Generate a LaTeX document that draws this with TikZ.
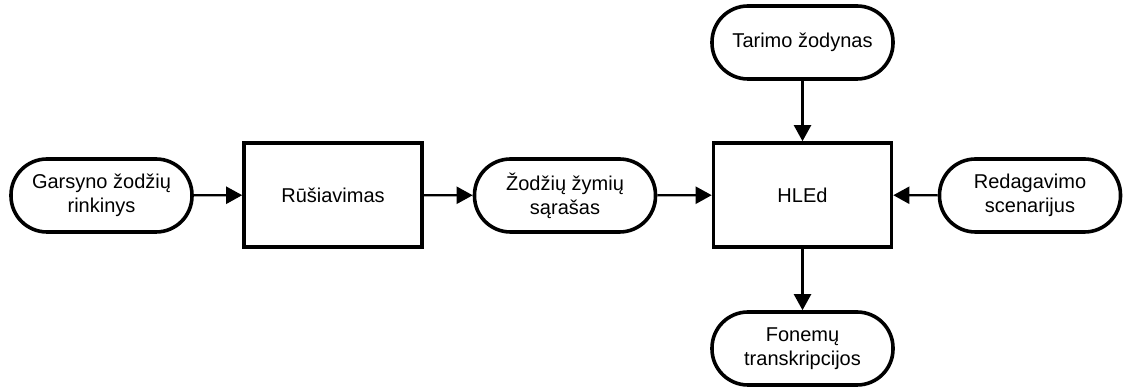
\documentclass[tikz,border=0pt]{standalone}
\usepackage{fontspec}
\setmainfont{Liberation Sans}
\usetikzlibrary{arrows.meta}
\tikzset{
  base/.style={draw=black, line width=3.6pt, align=center, inner sep=0pt,
    font=\fontsize{20}{24}\selectfont},
  term/.style={base, minimum width=181pt, minimum height=73pt, rounded corners=36pt},
  proc/.style={base, minimum width=178pt, minimum height=104pt},
  conn/.style={line width=2.2pt, -{Triangle[length=16pt,width=17pt]}}
}
\begin{document}
\begin{tikzpicture}[x=1pt,y=1pt]
\useasboundingbox (0,0) rectangle (1123,387);
\node[term] (gars) at (101.5,191.5) {Garsyno žodžių\\rinkinys};
\node[proc] (rus) at (333,192) {Rūšiavimas};
\node[term] (zod) at (565,191.5) {Žodžių žymių\\sąrašas};
\node[proc] (hled) at (802.5,192) {HLEd};
\node[term] (red) at (1030,191.5) {Redagavimo\\scenarijus};
\node[term] (tar) at (802.5,344.5) {Tarimo žodynas};
\node[term] (fon) at (802.5,38.5) {Fonemų\\transkripcijos};
\draw[conn] (gars) -- (rus);
\draw[conn] (rus) -- (zod);
\draw[conn] (zod) -- (hled);
\draw[conn] (red) -- (hled);
\draw[conn] (tar) -- (hled);
\draw[conn] (hled) -- (fon);
\end{tikzpicture}
\end{document}
